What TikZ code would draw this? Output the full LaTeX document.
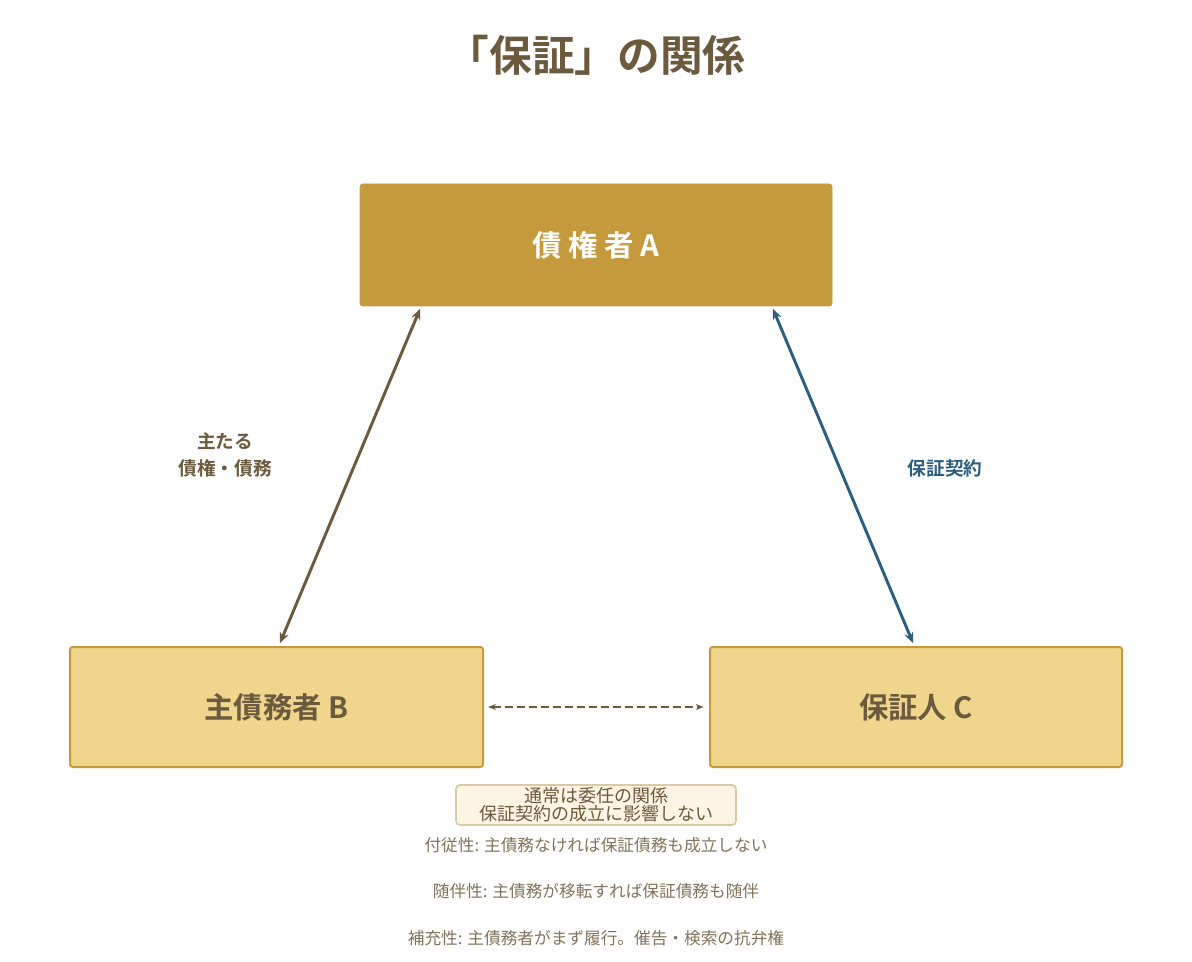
\documentclass[tikz,border=0pt]{standalone}
\usepackage{fontspec}
\setmainfont{Noto Sans CJK JP}
\newfontfamily\jpb{Noto Sans CJK JP Bold}
\usetikzlibrary{arrows.meta}
\definecolor{brn}{HTML}{6B5A3E}
\definecolor{gold}{HTML}{C49A3C}
\definecolor{lgold}{HTML}{F0D58C}
\definecolor{blu}{HTML}{2E5E7E}
\definecolor{notef}{HTML}{FCF5E3}
\definecolor{noted}{HTML}{D9CBA3}
\tikzset{
 box/.style={draw=gold,line width=1.5pt,fill=lgold,rounded corners=2pt,text=brn,font=\jpb\fontsize{22}{26}\selectfont},
 rel/.style={line width=2.2pt,{Stealth[length=8pt,width=7pt]}-{Stealth[length=8pt,width=7pt]}},
 prop/.style={text=brn!85,font=\fontsize{12.5}{15}\selectfont}
}
\begin{document}
\begin{tikzpicture}[x=0.75pt,y=-0.75pt]
\useasboundingbox (0,0) rectangle (1192,962);
\node[text=brn,font=\jpb\fontsize{32}{36}\selectfont] (t) at (596,55) {「保証」の関係};
\node[draw=gold,fill=gold,rounded corners=2pt,minimum width=354pt,minimum height=91.5pt,text=white,font=\jpb\fontsize{22}{26}\selectfont] (a) at (596,245) {債 権 者 A};
\node[box,minimum width=309.75pt,minimum height=90pt] (b) at (276.5,707) {主債務者 B};
\node[box,minimum width=309pt,minimum height=90pt] (c) at (916,707) {保証人 C};
\coordinate (a1) at (420,309); \coordinate (b1) at (280,643);
\coordinate (a2) at (773,309); \coordinate (c1) at (913,643);
\draw[rel,brn] (a1) -- (b1);
\draw[rel,blu] (a2) -- (c1);
\draw[brn,line width=1.8pt,dash pattern=on 6pt off 3pt,{Stealth[length=6pt]}-{Stealth[length=6pt]}] (b.east) ++(4,0) -- ([xshift=-4]c.west);
\node[text=brn,align=center,font=\jpb\fontsize{14}{20}\selectfont] (l1) at (225,455) {主たる\\債権・債務};
\node[text=blu,font=\jpb\fontsize{14}{18}\selectfont] (l2) at (945,468) {保証契約};
\node[draw=noted,line width=1.2pt,fill=notef,rounded corners=3pt,text=brn,align=center,inner sep=2pt,minimum width=210pt,font=\fontsize{13.5}{13.5}\selectfont] (n) at (596,805) {通常は委任の関係\\保証契約の成立に影響しない};
\node[prop] (p1) at (596,845) {付従性: 主債務なければ保証債務も成立しない};
\node[prop] (p2) at (596,891) {随伴性: 主債務が移転すれば保証債務も随伴};
\node[prop] (p3) at (596,938) {補充性: 主債務者がまず履行。催告・検索の抗弁権};
\end{tikzpicture}
\end{document}
